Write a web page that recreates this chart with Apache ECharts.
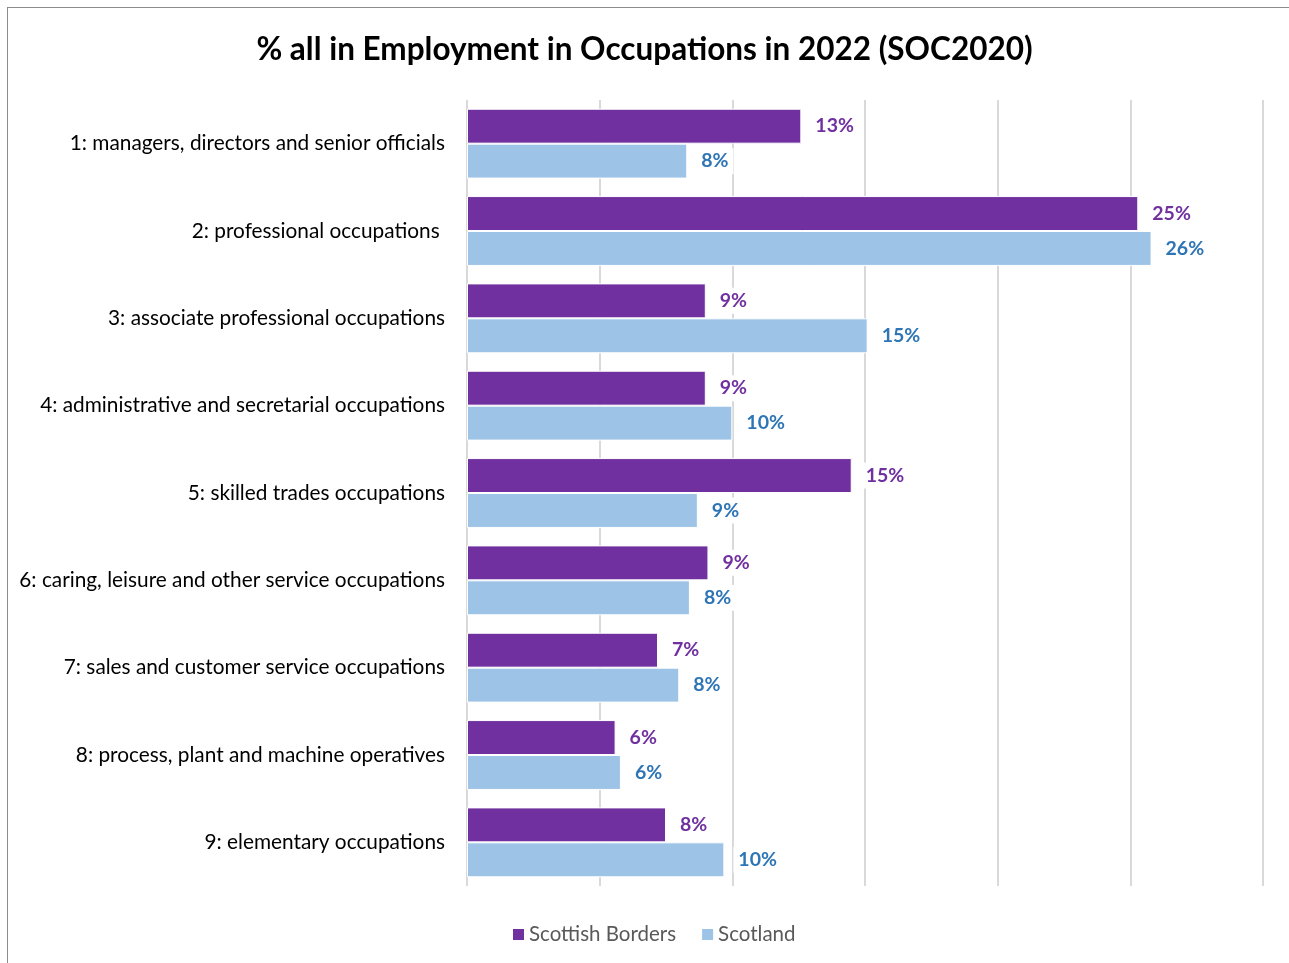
<!DOCTYPE html>
<html>
<head>
<meta charset="utf-8">
<script src="https://cdn.jsdelivr.net/npm/echarts@6/dist/echarts.min.js"></script>
<style>
  html, body { margin: 0; padding: 0; background: #fff; }
  #frame { position: absolute; left: 7px; top: 7px; width: 1400px; height: 1100px; border: 1.5px solid #8c8c8c; box-sizing: border-box; }
  #chart { position: absolute; left: 0; top: 0; width: 1289px; height: 963px; }
</style>
</head>
<body>
<div id="frame"></div>
<div id="chart"></div>
<script>
// Occupation groups (SOC2020), top to bottom
const categories = [
  '1: managers, directors and senior officials',
  '2: professional occupations ',
  '3: associate professional occupations',
  '4: administrative and secretarial occupations',
  '5: skilled trades occupations',
  '6: caring, leisure and other service occupations',
  '7: sales and customer service occupations',
  '8: process, plant and machine operatives',
  '9: elementary occupations'
];
// Share of all in employment, %
const scottishBorders = [12.6, 25.3, 9.0, 9.0, 14.5, 9.1, 7.2, 5.6, 7.5];
const scotland       = [8.3, 25.8, 15.1, 10.0, 8.7, 8.4, 8.0, 5.8, 9.7];
const seriesNames = ['Scottish Borders', 'Scotland'];

const FONT = 'Lato, "Open Sans", sans-serif';
const chart = echarts.init(document.getElementById('chart'), null, { renderer: 'canvas' });

function barSeries(name, data, color, labelColor) {
  return {
    name: name,
    type: 'bar',
    data: data,
    barGap: '0%',
    barCategoryGap: '20%',
    itemStyle: { color: color, borderColor: '#ffffff', borderWidth: 1 },
    label: {
      show: true,
      position: 'right',
      distance: 9,
      formatter: p => Math.round(p.value) + '%',
      color: labelColor,
      fontFamily: FONT,
      fontWeight: 'bold',
      fontSize: 19.5,
      backgroundColor: '#ffffff',
      padding: [3, 5]
    }
  };
}

chart.setOption({
  animation: false,
  title: {
    text: '% all in Employment in Occupations in 2022 (SOC2020)',
    left: 'center',
    top: 29,
    textStyle: { fontFamily: FONT, fontWeight: 'bold', fontSize: 31.5, color: '#000' }
  },
  legend: {
    data: seriesNames,
    bottom: 13,
    left: 506,
    itemWidth: 13,
    itemHeight: 13,
    itemGap: 24,
    icon: 'rect',
    textStyle: { fontFamily: FONT, fontSize: 20.5, color: '#595959', padding: [0, 0, 0, -1] }
  },
  grid: { left: 467, right: 26, top: 100, bottom: 77, containLabel: false },
  xAxis: {
    type: 'value',
    min: 0,
    max: 30,
    interval: 5,
    axisLabel: { show: false },
    axisLine: { show: false },
    axisTick: { show: false },
    splitLine: { show: true, lineStyle: { color: '#d9d9d9', width: 2 } }
  },
  yAxis: {
    type: 'category',
    data: categories,
    inverse: true,
    axisLine: { show: false },
    axisTick: { show: false },
    axisLabel: { margin: 22, fontFamily: FONT, fontSize: 20.8, color: '#000' }
  },
  series: [
    barSeries(seriesNames[0], scottishBorders, '#7030A0', '#7030A0'),
    barSeries(seriesNames[1], scotland, '#9DC3E6', '#2E75B6')
  ]
});
</script>
</body>
</html>
